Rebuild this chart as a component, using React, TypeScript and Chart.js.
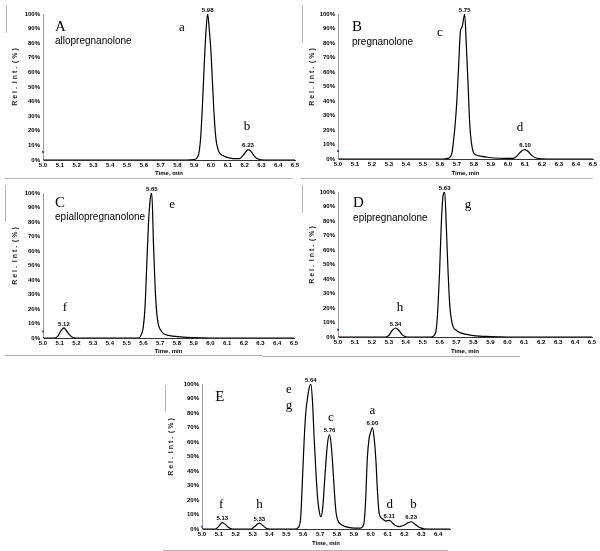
import React, { useEffect, useRef } from 'react';
import { Chart, registerables } from 'chart.js';

Chart.register(...registerables);

// ---------- data (retention time in min, relative intensity in %) ----------
const timeA = [5.0, 5.85, 5.9, 5.92, 5.93, 5.94, 5.95, 5.96, 5.97, 5.98, 5.99, 6.0, 6.01, 6.02, 6.03, 6.04, 6.05, 6.07, 6.09, 6.13, 6.17, 6.19, 6.21, 6.22, 6.23, 6.24, 6.26, 6.28, 6.32, 6.5];
const intensityA = [0, 0, 0.3, 2, 6, 18, 40, 66, 88, 100, 89, 74, 50, 28, 14, 8, 5, 3, 2, 1, 1, 3, 6, 7, 6.8, 5.5, 2.3, 0.7, 0, 0];

const timeB = [5.0, 5.62, 5.65, 5.67, 5.68, 5.69, 5.7, 5.71, 5.72, 5.73, 5.745, 5.755, 5.765, 5.775, 5.785, 5.795, 5.81, 5.84, 5.88, 5.95, 6.03, 6.06, 6.08, 6.1, 6.12, 6.14, 6.17, 6.25, 6.5];
const intensityB = [0, 0, 0.6, 4, 13, 25, 42, 65, 88, 91, 100, 78, 52, 24, 11, 5, 3, 2, 1.2, 0.5, 0.4, 3, 5.5, 6.5, 5, 2.5, 0.5, 0, 0];

const timeC = [5.0, 5.07, 5.09, 5.11, 5.125, 5.14, 5.16, 5.18, 5.2, 5.57, 5.59, 5.6, 5.61, 5.62, 5.63, 5.64, 5.65, 5.66, 5.67, 5.68, 5.69, 5.7, 5.72, 5.75, 5.82, 5.9, 6.0, 6.5];
const intensityC = [0, 0, 1.5, 5.5, 7, 5, 2, 0.3, 0, 0, 3, 8, 22, 50, 78, 95, 100, 66, 35, 17, 9, 6, 3, 1.8, 0.8, 0.2, 0, 0];

const timeD = [5.0, 5.28, 5.3, 5.32, 5.34, 5.36, 5.38, 5.4, 5.42, 5.55, 5.57, 5.58, 5.59, 5.6, 5.61, 5.62, 5.63, 5.64, 5.65, 5.66, 5.67, 5.68, 5.7, 5.72, 5.76, 5.8, 5.9, 6.0, 6.5];
const intensityD = [0, 0, 1, 4.5, 6.2, 4.5, 1.5, 0.2, 0, 0, 1.5, 5, 20, 45, 78, 97, 100, 75, 45, 22, 12, 7, 4.5, 3, 1.8, 1, 0.3, 0, 0];

const timeE = [5.0, 5.08, 5.1, 5.12, 5.14, 5.16, 5.18, 5.29, 5.31, 5.34, 5.36, 5.38, 5.4, 5.55, 5.57, 5.585, 5.595, 5.605, 5.615, 5.625, 5.635, 5.645, 5.655, 5.665, 5.675, 5.685, 5.695, 5.705, 5.715, 5.725, 5.735, 5.745, 5.756, 5.765, 5.775, 5.785, 5.795, 5.805, 5.82, 5.85, 5.9, 5.94, 5.96, 5.97, 5.98, 5.99, 6.0, 6.01, 6.02, 6.03, 6.04, 6.05, 6.07, 6.09, 6.11, 6.13, 6.15, 6.17, 6.2, 6.22, 6.24, 6.26, 6.28, 6.3, 6.33, 6.47];
const intensityE = [0, 0, 2, 4.4, 3, 0.8, 0, 0, 1.5, 4, 2.5, 0.5, 0, 0, 1, 8, 33, 60, 80, 90, 97, 100, 88, 62, 40, 22, 12, 8.5, 14, 30, 47, 60, 65, 59, 44, 25, 11, 6, 3.5, 1.6, 0.6, 0.6, 4, 20, 49, 62, 67, 70, 63, 49, 26, 11, 7, 5.5, 6, 4, 2.2, 1.6, 2.8, 4.2, 5, 3.5, 1.8, 0.6, 0, 0];

// peak retention-time labels
const peakRtA = ['5.98', '6.23'];
const peakRtB = ['5.75', '6.10'];
const peakRtC = ['5.12', '5.65'];
const peakRtD = ['5.34', '5.63'];
const peakRtE = ['5.13', '5.33', '5.64', '5.76', '6.00', '6.11', '6.23'];

// blue start marker level at 5.0 min (%)
const markerLevel = [5.5, 5.5, 4.6, 5, 1.6];

// tick values
const xTickValues = [5.0, 5.1, 5.2, 5.3, 5.4, 5.5, 5.6, 5.7, 5.8, 5.9, 6.0, 6.1, 6.2, 6.3, 6.4, 6.5];
const xTickValuesE = [5.0, 5.1, 5.2, 5.3, 5.4, 5.5, 5.6, 5.7, 5.8, 5.9, 6.0, 6.1, 6.2, 6.3, 6.4];
const yTickValues = [0, 10, 20, 30, 40, 50, 60, 70, 80, 90, 100];

// texts
const panelLetters = ['A', 'B', 'C', 'D', 'E'];
const compoundNames = ['allopregnanolone', 'pregnanolone', 'epiallopregnanolone', 'epipregnanolone'];
const xTitle = 'Time, min';
const yTitle = 'R e l .  I n t .  ( % )';

type Note = { text: string; x: number; y: number; kind: 'panel' | 'name' | 'letter' };
type Panel = {
  key: string;
  times: number[];
  values: number[];
  peaks: string[];
  marker: number;
  xTicks: number[];
  xMax: number;
  box: { left: number; top: number; width: number; height: number };
  area: { left: number; top: number; right: number; bottom: number };
  yTitleDx: number;
  notes: Note[];
};

const panels: Panel[] = [
  {
    key: 'A', times: timeA, values: intensityA, peaks: peakRtA, marker: markerLevel[0],
    xTicks: xTickValues, xMax: 6.5,
    box: { left: 0, top: 0, width: 303, height: 177 },
    area: { left: 43, top: 14, right: 295, bottom: 160 },
    yTitleDx: 28,
    notes: [
      { text: panelLetters[0], x: 5.071, y: 91, kind: 'panel' },
      { text: compoundNames[0], x: 5.071, y: 81, kind: 'name' },
      { text: 'a', x: 5.827, y: 91, kind: 'letter' },
      { text: 'b', x: 6.214, y: 22.6, kind: 'letter' },
    ],
  },
  {
    key: 'B', times: timeB, values: intensityB, peaks: peakRtB, marker: markerLevel[1],
    xTicks: xTickValues, xMax: 6.5,
    box: { left: 300, top: 0, width: 300, height: 177 },
    area: { left: 338, top: 14, right: 593, bottom: 159 },
    yTitleDx: 26,
    notes: [
      { text: panelLetters[1], x: 5.082, y: 91, kind: 'panel' },
      { text: compoundNames[1], x: 5.082, y: 80.7, kind: 'name' },
      { text: 'c', x: 5.6, y: 87, kind: 'letter' },
      { text: 'd', x: 6.07, y: 22, kind: 'letter' },
    ],
  },
  {
    key: 'C', times: timeC, values: intensityC, peaks: peakRtC, marker: markerLevel[2],
    xTicks: xTickValues, xMax: 6.5,
    box: { left: 0, top: 180, width: 303, height: 175 },
    area: { left: 43, top: 193, right: 294, bottom: 338 },
    yTitleDx: 28,
    notes: [
      { text: panelLetters[2], x: 5.072, y: 93, kind: 'panel' },
      { text: compoundNames[2], x: 5.072, y: 83, kind: 'name' },
      { text: 'e', x: 5.771, y: 91.7, kind: 'letter' },
      { text: 'f', x: 5.131, y: 20.7, kind: 'letter' },
    ],
  },
  {
    key: 'D', times: timeD, values: intensityD, peaks: peakRtD, marker: markerLevel[3],
    xTicks: xTickValues, xMax: 6.5,
    box: { left: 300, top: 180, width: 300, height: 175 },
    area: { left: 338, top: 192, right: 592, bottom: 337 },
    yTitleDx: 26,
    notes: [
      { text: panelLetters[3], x: 5.089, y: 92.4, kind: 'panel' },
      { text: compoundNames[3], x: 5.089, y: 82, kind: 'name' },
      { text: 'g', x: 5.768, y: 91, kind: 'letter' },
      { text: 'h', x: 5.366, y: 20, kind: 'letter' },
    ],
  },
  {
    key: 'E', times: timeE, values: intensityE, peaks: peakRtE, marker: markerLevel[4],
    xTicks: xTickValuesE, xMax: 6.47,
    box: { left: 150, top: 368, width: 304, height: 179 },
    area: { left: 202, top: 384, right: 450, bottom: 529 },
    yTitleDx: 31,
    notes: [
      { text: panelLetters[4], x: 5.078, y: 91, kind: 'panel' },
      { text: 'e', x: 5.515, y: 96, kind: 'letter' },
      { text: 'g', x: 5.515, y: 85, kind: 'letter' },
      { text: 'f', x: 5.114, y: 16.5, kind: 'letter' },
      { text: 'h', x: 5.341, y: 16.5, kind: 'letter' },
      { text: 'c', x: 5.764, y: 76.6, kind: 'letter' },
      { text: 'a', x: 6.01, y: 82, kind: 'letter' },
      { text: 'd', x: 6.113, y: 16.5, kind: 'letter' },
      { text: 'b', x: 6.253, y: 16.5, kind: 'letter' },
    ],
  },
];

// page decoration rules (light gray frame fragments)
const rules = [
  { left: 5, top: 178, width: 288, height: 1 },
  { left: 301, top: 178, width: 292, height: 1 },
  { left: 5, top: 355, width: 258, height: 1 },
  { left: 263, top: 356, width: 257, height: 1 },
  { left: 163, top: 550, width: 285, height: 1 },
  { left: 6, top: 5, width: 1, height: 28 },
  { left: 302, top: 5, width: 1, height: 38 },
  { left: 5, top: 185, width: 1, height: 37 },
  { left: 302, top: 185, width: 1, height: 28 },
  { left: 165, top: 385, width: 1, height: 27 },
];

const SANS = '"Liberation Sans", Arial, Helvetica, sans-serif';
const SERIF = '"Liberation Serif", "Times New Roman", serif';

function makeNotesPlugin(cfg: Panel) {
  return {
    id: 'notes' + cfg.key,
    afterDatasetsDraw(chart: any) {
      const { ctx, chartArea } = chart;
      const xs = chart.scales.x;
      const ys = chart.scales.y;
      ctx.save();
      ctx.fillStyle = '#000';
      // peak retention time labels above apexes
      ctx.font = 'bold 6px ' + SANS;
      ctx.textAlign = 'center';
      ctx.textBaseline = 'bottom';
      cfg.peaks.forEach((rt) => {
        const t = parseFloat(rt);
        let best = -1;
        cfg.times.forEach((tt, i) => {
          if (Math.abs(tt - t) <= 0.031 && (best < 0 || cfg.values[i] > cfg.values[best])) best = i;
        });
        if (best < 0) return;
        ctx.fillText(rt, xs.getPixelForValue(cfg.times[best]), ys.getPixelForValue(cfg.values[best]) - 1);
      });
      // notes
      cfg.notes.forEach((n) => {
        if (n.kind === 'panel') ctx.font = '15px ' + SERIF;
        else if (n.kind === 'letter') ctx.font = '13px ' + SERIF;
        else ctx.font = '10px ' + SANS;
        ctx.textAlign = n.kind === 'letter' ? 'center' : 'left';
        ctx.textBaseline = 'middle';
        ctx.fillText(n.text, xs.getPixelForValue(n.x), ys.getPixelForValue(n.y));
      });
      // y axis title
      ctx.translate(chartArea.left - cfg.yTitleDx, chartArea.top + 63);
      ctx.rotate(-Math.PI / 2);
      ctx.font = 'bold 7px ' + SANS;
      ctx.textAlign = 'center';
      ctx.textBaseline = 'middle';
      ctx.fillStyle = '#222';
      ctx.fillText(yTitle, 0, 0);
      ctx.restore();
    },
  };
}

function PanelChart({ cfg }: { cfg: Panel }) {
  const ref = useRef<HTMLCanvasElement>(null);
  useEffect(() => {
    const canvas = ref.current;
    if (!canvas) return;
    const { box, area } = cfg;
    const chart = new Chart(canvas, {
      type: 'line',
      data: {
        datasets: [
          {
            data: cfg.times.map((t, i) => ({ x: t, y: cfg.values[i] })),
            borderColor: '#000',
            borderWidth: 1.2,
            pointRadius: 0,
            fill: false,
            cubicInterpolationMode: 'monotone',
          },
          {
            data: [{ x: 5.0, y: cfg.marker }],
            showLine: false,
            pointStyle: 'rect',
            pointRadius: 1.3,
            pointBackgroundColor: '#2b3fd0',
            pointBorderWidth: 0,
            clip: false,
          } as any,
        ],
      },
      options: {
        responsive: false,
        animation: false,
        devicePixelRatio: 1,
        layout: {
          padding: {
            left: 0,
            top: area.top - box.top,
            right: box.left + box.width - area.right,
            bottom: 0,
          },
        },
        plugins: { legend: { display: false }, tooltip: { enabled: false } },
        scales: {
          x: {
            type: 'linear',
            min: 5.0,
            max: cfg.xMax,
            afterBuildTicks: (s: any) => {
              s.ticks = cfg.xTicks.map((v) => ({ value: v }));
            },
            afterFit: (s: any) => {
              s.height = box.top + box.height - area.bottom;
            },
            grid: { display: false, drawTicks: false },
            border: { display: true, color: '#333', width: 1 },
            ticks: {
              autoSkip: false,
              maxRotation: 0,
              padding: 2,
              color: '#000',
              font: { family: SANS, size: 6, weight: 'bold' },
              callback: (v: any) => Number(v).toFixed(1),
            },
            title: {
              display: true,
              text: xTitle,
              color: '#000',
              font: { family: SANS, size: 6, weight: 'bold' },
              padding: { top: 0, bottom: 0 },
            },
          },
          y: {
            type: 'linear',
            min: 0,
            max: 100,
            afterBuildTicks: (s: any) => {
              s.ticks = yTickValues.map((v) => ({ value: v }));
            },
            afterFit: (s: any) => {
              s.width = area.left - box.left;
            },
            grid: { display: false, drawTicks: false },
            border: { display: true, color: '#999', width: 1 },
            ticks: {
              padding: 3,
              color: '#000',
              font: { family: SANS, size: 6, weight: 'bold' },
              callback: (v: any) => v + '%',
            },
          },
        },
      } as any,
      plugins: [makeNotesPlugin(cfg)],
    });
    return () => chart.destroy();
  }, [cfg]);
  return (
    <canvas
      ref={ref}
      width={cfg.box.width}
      height={cfg.box.height}
      style={{ position: 'absolute', left: cfg.box.left, top: cfg.box.top, width: cfg.box.width, height: cfg.box.height }}
    />
  );
}

export default function App() {
  return (
    <div style={{ position: 'absolute', left: 0, top: 0, width: 600, height: 551, background: '#fff', overflow: 'hidden' }}>
      {rules.map((r, i) => (
        <div key={i} style={{ position: 'absolute', left: r.left, top: r.top, width: r.width, height: r.height, background: '#b4b4b4' }} />
      ))}
      {panels.map((p) => (
        <PanelChart key={p.key} cfg={p} />
      ))}
    </div>
  );
}
